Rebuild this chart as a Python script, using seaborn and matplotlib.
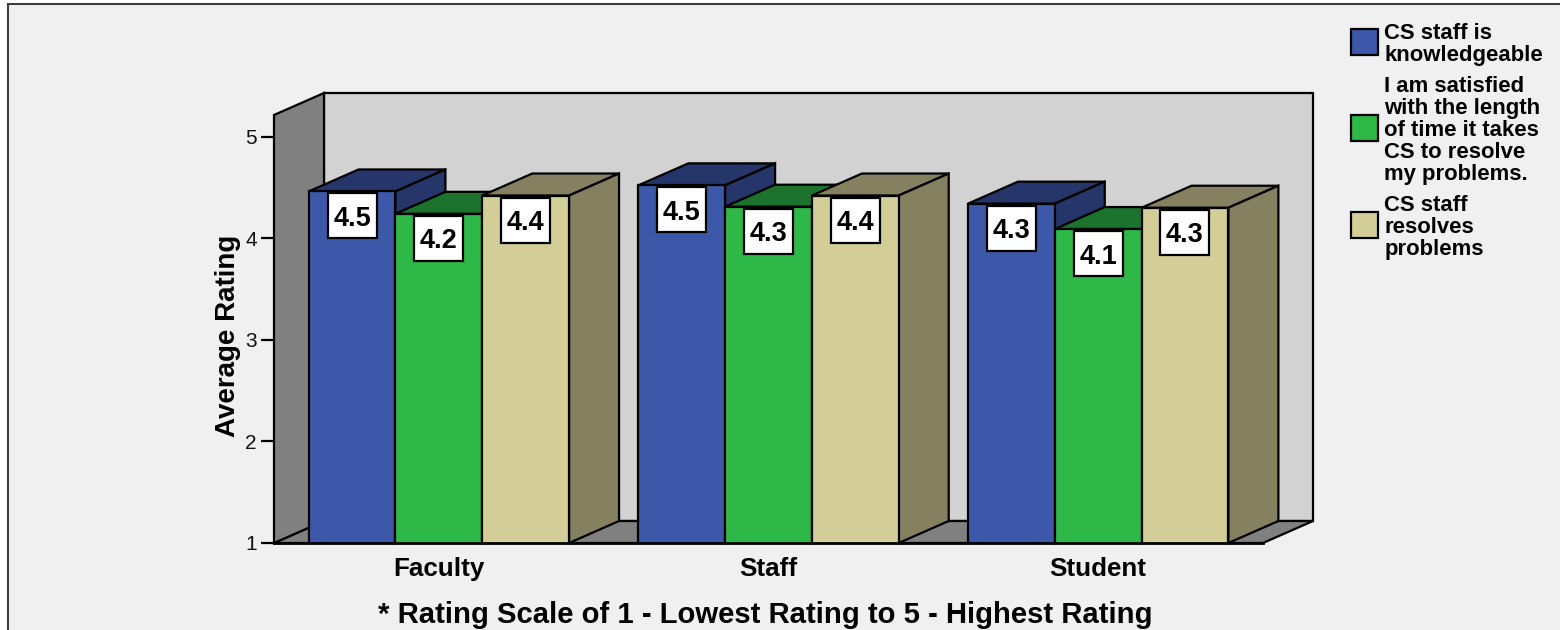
import matplotlib
matplotlib.use("Agg")
import matplotlib.pyplot as plt
from matplotlib.legend_handler import HandlerPatch
from matplotlib.patches import Polygon, Rectangle
import pandas as pd
import seaborn as sns

# Survey averages per respondent group
groups = ["Faculty", "Staff", "Student"]
knowledgeable = [4.46, 4.52, 4.34]
time_to_resolve = [4.24, 4.31, 4.09]
resolves = [4.42, 4.42, 4.30]

series_names = [
    "CS staff is\nknowledgeable",
    "I am satisfied\nwith the length\nof time it takes\nCS to resolve\nmy problems.",
    "CS staff\nresolves\nproblems",
]
front_colors = ["#3D58A8", "#2EB848", "#D3CE97"]
shade_colors = ["#26366B", "#1C732D", "#85805F"]
WALL = "#D2D2D2"
SIDE_WALL = "#808080"
PANEL = "#F0F0F0"
LW = 1.6

sns.set_theme(style="white")
plt.rcParams["font.family"] = ["Liberation Sans", "DejaVu Sans"]

W, H = 1560, 630
fig = plt.figure(figsize=(W / 100, H / 100), dpi=100, facecolor="white")

# Panel behind the chart, running off the right and bottom edges
fig.add_artist(Rectangle((8 / W, -0.02), 1.02, 1.02 - 4 / H, transform=fig.transFigure,
                         facecolor=PANEL, edgecolor="#404040", linewidth=1.5, zorder=-5))

ax_left, ax_right, ax_top, ax_bottom = 274, 1263, 115, 543
ax = fig.add_axes([ax_left / W, 1 - ax_bottom / H, (ax_right - ax_left) / W, (ax_bottom - ax_top) / H])
ax.patch.set_visible(False)

df = pd.DataFrame({
    "group": groups * 3,
    "series": [s for s in series_names for _ in groups],
    "rating": knowledgeable + time_to_resolve + resolves,
})
sns.barplot(data=df, x="group", y="rating", hue="series", hue_order=series_names,
            palette=front_colors, saturation=1, width=0.79, gap=0, errorbar=None,
            edgecolor="black", linewidth=LW, ax=ax)

ax.set_xlim(-0.5, 2.5)
ax.set_ylim(1, 1 + (ax_bottom - ax_top) / 101.6)

# Depth of the extruded look, expressed in data units
dx = 50 / ((ax_right - ax_left) / 3)
dy = 22 / 101.6
x0, x1 = ax.get_xlim()
y0, y1 = ax.get_ylim()


def face(points, color, z):
    ax.add_patch(Polygon(points, closed=True, facecolor=color, edgecolor="black",
                         linewidth=LW, joinstyle="miter", clip_on=False, zorder=z))


# Back wall, floor and left wall
face([(x0 + dx, y0 + dy), (x1 + dx, y0 + dy), (x1 + dx, y1 + dy), (x0 + dx, y1 + dy)], WALL, 0.5)
face([(x0, y0), (x1, y0), (x1 + dx, y0 + dy), (x0 + dx, y0 + dy)], SIDE_WALL, 0.6)
face([(x0, y0), (x0 + dx, y0 + dy), (x0 + dx, y1 + dy), (x0, y1)], SIDE_WALL, 0.7)

# Top and side faces, then the value box on each bar
box_w = 49 / ((ax_right - ax_left) / 3)
box_h = 45 / 101.6
box_gap = 2 / 101.6
bars = []
for s, container in enumerate(ax.containers):
    for bar in container:
        bars.append((bar.get_x(), s, bar))
bars.sort(key=lambda item: item[0])
for order, (_, s, bar) in enumerate(bars):
    z = 3 + order * 0.1
    left = bar.get_x()
    right = left + bar.get_width()
    top = bar.get_height()
    face([(left, top), (right, top), (right + dx, top + dy), (left + dx, top + dy)], shade_colors[s], z)
    face([(right, y0), (right + dx, y0 + dy), (right + dx, top + dy), (right, top)], shade_colors[s], z + 0.01)
    bar.set_zorder(z + 0.02)
    centre = (left + right) / 2
    ax.add_patch(Rectangle((centre - box_w / 2, top - box_gap - box_h), box_w, box_h,
                           facecolor="white", edgecolor="black", linewidth=LW, zorder=20))
    ax.text(centre, top - box_gap - box_h / 2, f"{top:.1f}", ha="center", va="center_baseline",
            fontsize=19.5, fontweight="bold", color="black", zorder=21)

# Axes furniture
for name in ("top", "right", "left"):
    ax.spines[name].set_visible(False)
ax.spines["bottom"].set_color("black")
ax.spines["bottom"].set_linewidth(2)
ax.spines["bottom"].set_zorder(15)
ax.set_yticks([1, 2, 3, 4, 5])
ax.tick_params(axis="y", length=9.4, width=LW, color="black", labelsize=15, labelcolor="#111111", pad=3, left=True)
ax.tick_params(axis="x", length=0, labelsize=18.7, labelcolor="black", pad=10)
for label in ax.get_xticklabels():
    label.set_fontweight("bold")
ax.set_xlabel("")
ax.set_ylabel("Average Rating", fontsize=20, fontweight="bold", color="black")
ax.yaxis.set_label_coords((241 - ax_left) / (ax_right - ax_left), (ax_bottom - 336) / (ax_bottom - ax_top))

fig.text(765 / W, 1 - 615 / H, "* Rating Scale of 1 - Lowest Rating to 5 - Highest Rating",
         ha="center", va="center", fontsize=21.1, fontweight="bold", color="black")


# Legend swatch sits slightly above the centre of its text block
def raised_swatch(legend, orig_handle, xdescent, ydescent, width, height, fontsize):
    return Rectangle((-xdescent, -ydescent + 2.2), width, height)


# Legend in the upper-right corner
handles, labels = ax.get_legend_handles_labels()
ax.get_legend().remove()
for handle in handles:
    handle.set_edgecolor("black")
    handle.set_linewidth(LW)
leg = fig.legend(handles, labels, loc="upper left", bbox_to_anchor=(1351 / W, 1 - 23 / H),
                 bbox_transform=fig.transFigure, frameon=False, borderaxespad=0, borderpad=0,
                 prop={"size": 15.9, "weight": "bold"}, handlelength=1.21, handleheight=1.45,
                 handletextpad=0.3, labelspacing=0.45,
                 handler_map={h: HandlerPatch(patch_func=raised_swatch) for h in handles})
for text in leg.get_texts():
    text.set_linespacing(1.06)
    text.set_color("black")

fig.savefig("out.png", dpi=100, facecolor=fig.get_facecolor())
